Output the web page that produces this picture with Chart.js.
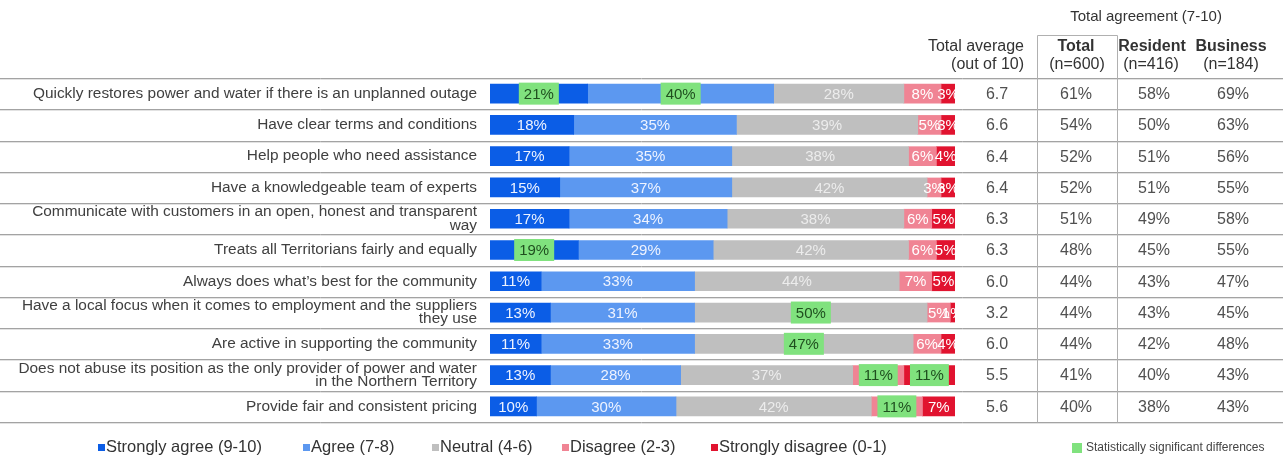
<!DOCTYPE html>
<html>
<head>
<meta charset="utf-8">
<script src="https://cdn.jsdelivr.net/npm/chart.js@4.4.1/dist/chart.umd.min.js"></script>
<style>
  html, body { margin: 0; padding: 0; background: #fff; }
  canvas { display: block; }
</style>
</head>
<body>
<canvas id="chart" width="1283" height="458"></canvas>
<script>
const statements = [
  'Quickly restores power and water if there is an unplanned outage',
  'Have clear terms and conditions',
  'Help people who need assistance',
  'Have a knowledgeable team of experts',
  ['Communicate with customers in an open, honest and transparent', 'way'],
  'Treats all Territorians fairly and equally',
  'Always does what\u2019s best for the community',
  ['Have a local focus when it comes to employment and the suppliers', 'they use'],
  'Are active in supporting the community',
  ['Does not abuse its position as the only provider of power and water', 'in the Northern Territory'],
  'Provide fair and consistent pricing'
];

const stronglyAgree    = [21, 18, 17, 15, 17, 19, 11, 13, 11, 13, 10];
const agree            = [40, 35, 35, 37, 34, 29, 33, 31, 33, 28, 30];
const neutral          = [28, 39, 38, 42, 38, 42, 44, 50, 47, 37, 42];
const disagree         = [8, 5, 6, 3, 6, 6, 7, 5, 6, 11, 11];
const stronglyDisagree = [3, 3, 4, 3, 5, 5, 5, 1, 4, 11, 7];

// rows where the segment is flagged as statistically significant
const sigStronglyAgree    = [0, 5];
const sigAgree            = [0];
const sigNeutral          = [7, 8];
const sigDisagree         = [9, 10];
const sigStronglyDisagree = [9];

const totalAverage  = ['6.7', '6.6', '6.4', '6.4', '6.3', '6.3', '6.0', '3.2', '6.0', '5.5', '5.6'];
const totalAgree    = [61, 54, 52, 52, 51, 48, 44, 44, 44, 41, 40];
const residentAgree = [58, 50, 51, 51, 49, 45, 43, 43, 42, 40, 38];
const businessAgree = [69, 63, 56, 55, 58, 55, 47, 45, 48, 43, 43];

const FONT = '"Liberation Sans", Arial, sans-serif';
Chart.defaults.font.family = FONT;

const seriesColors = ['#0b5de6', '#5c98f0', '#bfbfbf', '#f08494', '#e1132f'];

// segment value labels, green box behind significant ones
const valueLabels = {
  id: 'valueLabels',
  afterDatasetsDraw(chart) {
    const ctx = chart.ctx;
    ctx.save();
    ctx.font = '15px ' + FONT;
    ctx.textAlign = 'center';
    ctx.textBaseline = 'middle';
    chart.data.datasets.forEach((ds, di) => {
      chart.getDatasetMeta(di).data.forEach((bar, i) => {
        const right = Math.min(bar.x, chart.chartArea.right);
        const x = (bar.base + right) / 2;
        const txt = ds.data[i] + '%';
        if (ds.sig.includes(i)) {
          const w = ctx.measureText(txt).width + 10;
          ctx.fillStyle = '#80e27e';
          ctx.fillRect(x - w / 2, bar.y - 11, w, 22);
          ctx.fillStyle = '#1f4f1f';
        } else {
          ctx.fillStyle = ds.textColor;
        }
        ctx.fillText(txt, x, bar.y + 1);
      });
    });
    ctx.restore();
  }
};

// row separators, header, side table and legend
const tableParts = {
  id: 'tableParts',
  beforeDatasetsDraw(chart) {
    const ctx = chart.ctx, y = chart.scales.y, n = statements.length;
    const step = (y.getPixelForValue(1) - y.getPixelForValue(0));
    ctx.save();
    for (let i = 0; i <= n; i++) {
      const ly = Math.round(y.getPixelForValue(0) - step / 2 + i * step) + 0.5;
      ctx.strokeStyle = '#a3a3a3';
      ctx.lineWidth = 1;
      ctx.beginPath(); ctx.moveTo(0, ly); ctx.lineTo(1283, ly); ctx.stroke();
      ctx.strokeStyle = '#e2e2e2';
      ctx.beginPath(); ctx.moveTo(0, ly + 1); ctx.lineTo(1283, ly + 1); ctx.stroke();
    }
    // box around Total column
    const top = 35.5, bottom = Math.round(y.getPixelForValue(n - 1) + step / 2) + 0.5;
    ctx.strokeStyle = '#b0b0b0';
    ctx.beginPath();
    ctx.moveTo(1037.5, bottom); ctx.lineTo(1037.5, top); ctx.lineTo(1117.5, top); ctx.lineTo(1117.5, bottom);
    ctx.stroke();
    ctx.restore();
  },
  afterDraw(chart) {
    const ctx = chart.ctx, y = chart.scales.y;
    ctx.save();
    ctx.textBaseline = 'middle';
    ctx.fillStyle = '#333';
    ctx.textAlign = 'center';
    ctx.font = '15px ' + FONT;
    ctx.fillText('Total agreement (7-10)', 1146, 17);
    ctx.font = '16px ' + FONT;
    ctx.textAlign = 'right';
    ctx.fillText('Total average', 1024, 47);
    ctx.fillText('(out of 10)', 1024, 65);
    ctx.textAlign = 'center';
    ctx.fillText('(n=600)', 1077, 65);
    ctx.fillText('(n=416)', 1151, 65);
    ctx.fillText('(n=184)', 1231, 65);
    ctx.font = 'bold 16px ' + FONT;
    ctx.fillText('Total', 1076, 47);
    ctx.fillText('Resident', 1152, 47);
    ctx.fillText('Business', 1231, 47);

    ctx.font = '16px ' + FONT;
    ctx.fillStyle = '#505050';
    statements.forEach((s, i) => {
      const py = y.getPixelForValue(i) + 1;
      ctx.fillText(totalAverage[i], 997, py);
      ctx.fillText(totalAgree[i] + '%', 1076, py);
      ctx.fillText(residentAgree[i] + '%', 1154, py);
      ctx.fillText(businessAgree[i] + '%', 1233, py);
    });

    // legend
    const legendX = [98, 303, 432, 562, 711];
    ctx.textAlign = 'left';
    ctx.font = '16.5px ' + FONT;
    chart.data.datasets.forEach((ds, di) => {
      ctx.fillStyle = ds.backgroundColor;
      ctx.fillRect(legendX[di], 444, 7, 7);
      ctx.fillStyle = '#333';
      ctx.fillText(ds.label, legendX[di] + 8, 447);
    });
    ctx.fillStyle = '#80e27e';
    ctx.fillRect(1072, 443, 10, 10);
    ctx.fillStyle = '#444';
    ctx.font = '12px ' + FONT;
    ctx.fillText('Statistically significant differences', 1086, 448);
    ctx.restore();
  }
};

new Chart(document.getElementById('chart'), {
  type: 'bar',
  data: {
    labels: statements,
    datasets: [
      { label: 'Strongly agree (9-10)', data: stronglyAgree, backgroundColor: seriesColors[0], textColor: '#eef3ff', sig: sigStronglyAgree },
      { label: 'Agree (7-8)', data: agree, backgroundColor: seriesColors[1], textColor: '#eef3ff', sig: sigAgree },
      { label: 'Neutral (4-6)', data: neutral, backgroundColor: seriesColors[2], textColor: '#ececec', sig: sigNeutral },
      { label: 'Disagree (2-3)', data: disagree, backgroundColor: seriesColors[3], textColor: '#fff', sig: sigDisagree },
      { label: 'Strongly disagree (0-1)', data: stronglyDisagree, backgroundColor: seriesColors[4], textColor: '#fff', sig: sigStronglyDisagree }
    ]
  },
  options: {
    indexAxis: 'y',
    responsive: false,
    animation: false,
    barThickness: 19,
    borderWidth: 0,
    layout: { padding: { left: 0, top: 78, right: 328, bottom: 36 } },
    plugins: { legend: { display: false }, tooltip: { enabled: false } },
    scales: {
      x: { stacked: true, min: 0, max: 100, display: false },
      y: {
        stacked: true,
        grid: { display: false, drawTicks: false },
        border: { display: false },
        ticks: { padding: 13, color: '#404040', font: { size: 15.4, lineHeight: 0.86 } },
        afterFit(scale) { scale.width = 490; }
      }
    }
  },
  plugins: [valueLabels, tableParts]
});
</script>
</body>
</html>
